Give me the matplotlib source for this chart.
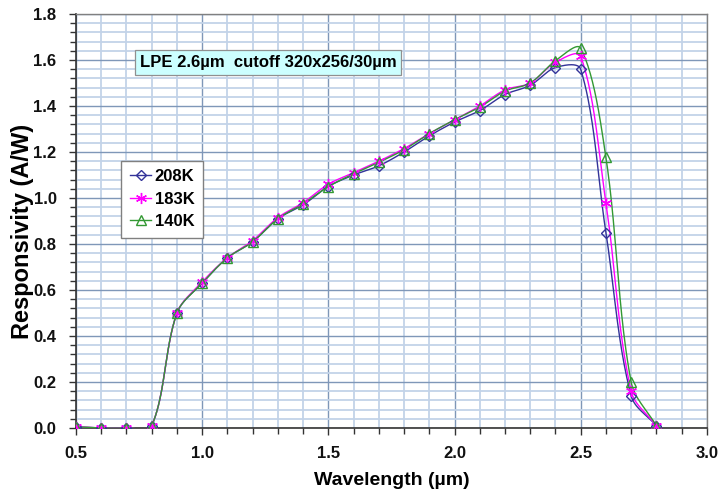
import numpy as np
import matplotlib
matplotlib.use("Agg")
import matplotlib.pyplot as plt
from matplotlib.ticker import MultipleLocator, FormatStrFormatter

plt.rcParams['font.family'] = ['Liberation Sans', 'DejaVu Sans']

wavelength = [0.5, 0.6, 0.7, 0.8, 0.9, 1.0, 1.1, 1.2, 1.3, 1.4, 1.5, 1.6,
              1.7, 1.8, 1.9, 2.0, 2.1, 2.2, 2.3, 2.4, 2.5, 2.6, 2.7, 2.8]
r208 = [0.005, 0.0, 0.0, 0.01, 0.50, 0.63, 0.74, 0.81, 0.91, 0.97, 1.05, 1.10,
        1.14, 1.20, 1.27, 1.33, 1.38, 1.45, 1.49, 1.567, 1.56, 0.85, 0.14, 0.01]
r183 = [0.005, 0.0, 0.0, 0.01, 0.50, 0.635, 0.74, 0.815, 0.915, 0.98, 1.06, 1.11,
        1.16, 1.215, 1.28, 1.34, 1.40, 1.47, 1.50, 1.59, 1.617, 0.98, 0.16, 0.01]
r140 = [0.005, 0.0, 0.0, 0.01, 0.50, 0.63, 0.74, 0.81, 0.91, 0.975, 1.05, 1.105,
        1.155, 1.21, 1.28, 1.34, 1.395, 1.465, 1.50, 1.597, 1.651, 1.177, 0.20, 0.01]
labels = ['208K', '183K', '140K']
annotation = 'LPE 2.6\u00b5m  cutoff 320x256/30\u00b5m'

fig = plt.figure(figsize=(7.22, 4.93), dpi=100)
ax = fig.add_axes([0.1053, 0.1318, 0.8737, 0.8398])
ax.set_xlim(0.5, 3.0)
ax.set_ylim(0.0, 1.8)


def smooth(x, y, n=40):
    # Excel-like smoothed line: Bezier segments with control points
    # scaled by neighbouring segment lengths in display space.
    pts = ax.transData.transform(np.column_stack([x, y]))
    P = np.vstack([pts[0], pts, pts[-1]])
    t = np.linspace(0, 1, n, endpoint=False)[:, None]
    out = []
    k = 1.0 / 3.0
    for i in range(1, len(P) - 2):
        p0, p1, p2, p3 = P[i - 1], P[i], P[i + 1], P[i + 2]
        d01 = np.linalg.norm(p1 - p0); d12 = np.linalg.norm(p2 - p1); d23 = np.linalg.norm(p3 - p2)
        f1 = d12 / (d01 + d12) if d01 + d12 > 0 else 0
        f2 = d12 / (d12 + d23) if d12 + d23 > 0 else 0
        c1 = p1 + (p2 - p0) * f1 * k
        c2 = p2 - (p3 - p1) * f2 * k
        seg = ((1 - t) ** 3) * p1 + 3 * ((1 - t) ** 2) * t * c1 + 3 * (1 - t) * t ** 2 * c2 + t ** 3 * p2
        out.append(seg)
    out.append(P[-2][None, :])
    out = np.vstack(out)
    d = ax.transData.inverted().transform(out)
    return d[:, 0], d[:, 1]


styles = [
    dict(color='#333399', marker='D', ms=5.5),
    dict(color='#FF00FF', marker=(6, 2, 0), ms=8),
    dict(color='#339933', marker='^', ms=7.5),
]
series = [r208, r183, r140]
handles = []
for yv, st, lab in zip(series, styles, labels):
    sx, sy = smooth(wavelength, yv)
    ax.plot(sx, sy, color=st['color'], lw=1.0, zorder=3)
    ax.plot(wavelength, yv, ls='none', marker=st['marker'], ms=st['ms'],
            mfc='none', mec=st['color'], mew=1.0, zorder=4)
    h, = ax.plot([], [], color=st['color'], lw=1.0, marker=st['marker'], ms=st['ms'],
                 mfc='none', mec=st['color'], mew=1.0)
    handles.append(h)

ax.xaxis.set_major_locator(MultipleLocator(0.5))
ax.xaxis.set_minor_locator(MultipleLocator(0.1))
ax.yaxis.set_major_locator(MultipleLocator(0.2))
ax.yaxis.set_minor_locator(MultipleLocator(0.04))
ax.xaxis.set_major_formatter(FormatStrFormatter('%.1f'))
ax.yaxis.set_major_formatter(FormatStrFormatter('%.1f'))

ax.grid(which='minor', color='#c3d3e8', lw=1.3, zorder=0)
ax.grid(which='major', color='#7f97b8', lw=1.0, zorder=1)
ax.set_axisbelow(True)

ax.tick_params(which='both', direction='out', colors='#333333', labelcolor='#111111', labelsize=12)
ax.tick_params(which='major', length=5, width=1.0)
ax.tick_params(which='minor', length=4, width=1.0)
ax.tick_params(axis='x', pad=8)
ax.tick_params(axis='y', pad=9)
for lab in ax.get_xticklabels() + ax.get_yticklabels():
    lab.set_fontweight('bold')

for s in ['left', 'bottom']:
    ax.spines[s].set_color('#333333')
    ax.spines[s].set_linewidth(1.2)
for s in ['right', 'top']:
    ax.spines[s].set_color('#808080')
    ax.spines[s].set_linewidth(1.0)

ax.set_xlabel('Wavelength (\u00b5m)', fontsize=14, fontweight='bold', labelpad=8)
ax.set_ylabel('Responsivity (A/W)', fontsize=17, fontweight='bold')
ax.yaxis.set_label_coords(-0.066, 0.476)

leg = ax.legend(handles, labels, loc='upper left', bbox_to_anchor=(0.072, 0.645),
                frameon=True, fancybox=False, framealpha=1, edgecolor='#808080',
                prop=dict(size=12, weight='bold'), handlelength=1.3,
                handletextpad=0.2, borderpad=0.5, labelspacing=0.45,
                borderaxespad=0)
leg.get_frame().set_linewidth(1.0)

ax.text(0.752, 1.59, annotation, fontsize=12, fontweight='bold', va='center', ha='left',
        zorder=6,
        bbox=dict(boxstyle='square,pad=0.3', fc='#ccffff', ec='#909090', lw=0.9))

fig.savefig('out.png', dpi=100)
